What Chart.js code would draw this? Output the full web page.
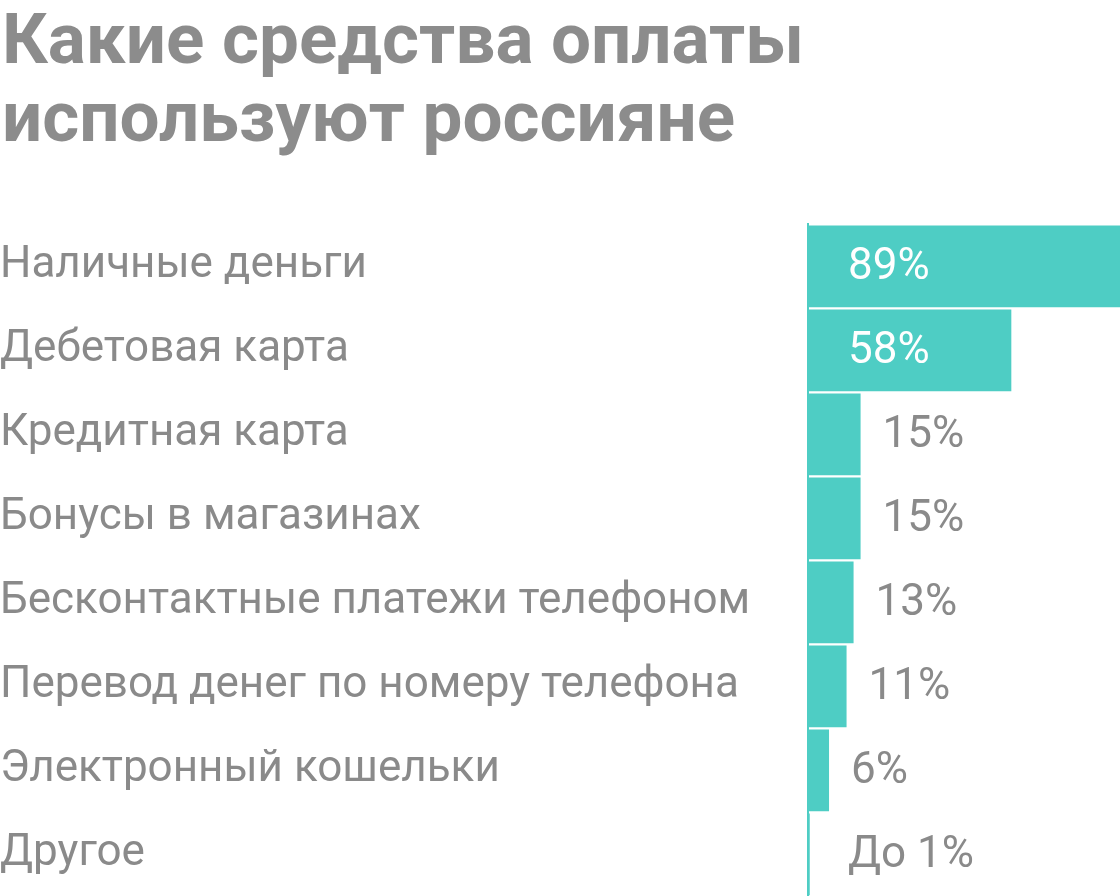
<!DOCTYPE html>
<html><head><meta charset="utf-8">
<script src="https://cdn.jsdelivr.net/npm/chart.js@4"></script>
<style>
body{margin:0;background:#fff;width:1120px;height:896px;overflow:hidden;position:relative;font-family:Roboto,sans-serif}
#title{position:absolute;left:2px;top:0px;font-size:71px;font-weight:bold;color:#8c8c8c;line-height:78px}
#wrap{position:absolute;left:0;top:197.6px;width:1120px;height:724.8px}
</style></head><body>
<div id="title">Какие средства оплаты<br>используют россияне</div>
<div id="wrap"><canvas id="c"></canvas></div>
<script>
const categories = ['Наличные деньги','Дебетовая карта','Кредитная карта','Бонусы в магазинах','Бесконтактные платежи телефоном','Перевод денег по номеру телефона','Электронный кошельки','Другое'];
const values = [89, 58, 15, 15, 13, 11, 6, 0.5];
const valueLabels = ['89%','58%','15%','15%','13%','11%','6%','До 1%'];

const valuePlugin = {
  id: 'values',
  afterDatasetsDraw(chart) {
    const ctx = chart.ctx;
    const meta = chart.getDatasetMeta(0);
    ctx.save();
    ctx.font = '44px Roboto';
    ctx.textBaseline = 'middle';
    meta.data.forEach((bar, i) => {
      const inside = values[i] > 40;
      ctx.fillStyle = inside ? '#ffffff' : '#8a8a8a';
      const x = inside ? bar.base + 40 : Math.max(bar.x + 22, bar.base + 40);
      ctx.fillText(valueLabels[i], x, bar.y + 2);
    });
    ctx.restore();
  }
};

new Chart(document.getElementById('c'), {
  type: 'bar',
  data: {
    labels: categories,
    datasets: [{ data: values, backgroundColor: '#4ecdc4', borderWidth: 0,
      categoryPercentage: 1, barPercentage: 0.975 }]
  },
  options: {
    indexAxis: 'y',
    responsive: true,
    maintainAspectRatio: false,
    animation: false,
    layout: { padding: 0 },
    plugins: { legend: { display: false }, tooltip: { enabled: false } },
    scales: {
      x: { display: false, min: 0, max: 89 },
      y: {
        grid: { display: false },
        border: { display: true, color: '#4ecdc4', width: 2 },
        ticks: { color: '#8a8a8a', font: { size: 44, family: 'Roboto' }, crossAlign: 'far', padding: 0 },
        afterFit(scale) { scale.width = 808; }
      }
    }
  },
  plugins: [valuePlugin]
});
</script>
</body></html>
